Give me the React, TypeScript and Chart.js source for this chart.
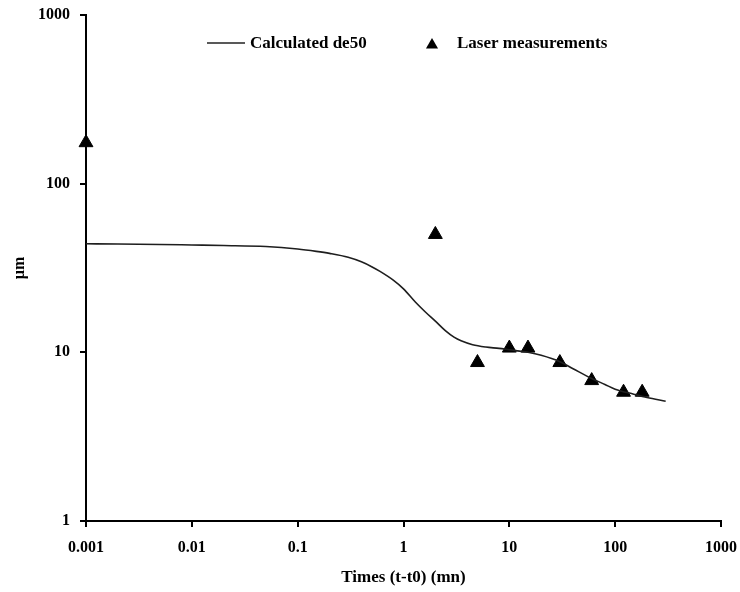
import React, { useEffect, useRef } from "react";
import { Chart, registerables } from "chart.js";

Chart.register(...registerables);

const seriesNames = ["Calculated de50", "Laser measurements"];

const calcTimes = [0.001, 0.002, 0.005, 0.01, 0.02, 0.05, 0.1, 0.15, 0.2, 0.3, 0.4, 0.5, 0.6, 0.8, 1, 1.3, 1.6, 2, 2.5, 3, 3.5, 4.5, 6, 8, 10, 15, 20, 30, 40, 60, 80, 100, 150, 200, 300];
const calcDe50 = [44.0, 43.9, 43.6, 43.3, 43.0, 42.4, 41.0, 39.7, 38.6, 36.6, 34.4, 32.2, 30.2, 26.8, 23.8, 19.8, 17.4, 15.3, 13.4, 12.3, 11.7, 11.1, 10.75, 10.55, 10.35, 10.0, 9.6, 8.8, 8.0, 7.0, 6.45, 6.05, 5.65, 5.4, 5.13];

const laserTimes = [0.001, 2, 5, 10, 15, 30, 60, 120, 180];
const laserValues = [175, 50, 8.7, 10.6, 10.6, 8.7, 6.8, 5.8, 5.8];

const xTickValues = [0.001, 0.01, 0.1, 1, 10, 100, 1000];
const xTickLabels = ["0.001", "0.01", "0.1", "1", "10", "100", "1000"];
const yTickValues = [1, 10, 100, 1000];
const yTickLabels = ["1", "10", "100", "1000"];

const xTitle = "Times (t-t0) (mn)";
const yTitle = "µm";

const FONT = "'Liberation Serif', 'Times New Roman', serif";

const legendPlugin = {
  id: "customLegend",
  afterDraw(chart: any) {
    const ctx = chart.ctx;
    const area = chart.chartArea;
    const y = area.top + 28;
    ctx.save();
    ctx.font = `bold 17px ${FONT}`;
    ctx.fillStyle = "#000";
    ctx.textBaseline = "middle";
    ctx.textAlign = "left";
    const lx = area.left + 121;
    ctx.strokeStyle = "#222";
    ctx.lineWidth = 1.5;
    ctx.beginPath();
    ctx.moveTo(lx, y);
    ctx.lineTo(lx + 38, y);
    ctx.stroke();
    ctx.fillText(seriesNames[0], lx + 43, y + 1);
    const tx = area.left + 346;
    const r = 7;
    const ty = y + 2;
    ctx.beginPath();
    for (let i = 0; i < 3; i++) {
      const a = (i * 2 * Math.PI) / 3;
      const px = tx + Math.sin(a) * r;
      const py = ty - Math.cos(a) * r;
      if (i === 0) ctx.moveTo(px, py);
      else ctx.lineTo(px, py);
    }
    ctx.closePath();
    ctx.fill();
    ctx.fillText(seriesNames[1], tx + 25, y + 1);
    ctx.restore();
  },
};

export default function App() {
  const canvasRef = useRef<HTMLCanvasElement | null>(null);

  useEffect(() => {
    if (!canvasRef.current) return;
    const chart = new Chart(canvasRef.current, {
      type: "line",
      data: {
        datasets: [
          {
            label: seriesNames[0],
            data: calcTimes.map((t, i) => ({ x: t, y: calcDe50[i] })),
            borderColor: "#1e1e1e",
            borderWidth: 1.6,
            pointRadius: 0,
            fill: false,
            cubicInterpolationMode: "monotone",
          } as any,
          {
            type: "scatter",
            label: seriesNames[1],
            data: laserTimes.map((t, i) => ({ x: t, y: laserValues[i] })),
            pointStyle: "triangle",
            pointRadius: 8,
            backgroundColor: "#000",
            borderColor: "#000",
            borderWidth: 1,
            showLine: false,
            clip: false,
          } as any,
        ],
      },
      options: {
        responsive: false,
        animation: false,
        layout: { padding: { top: 15, right: 19, left: 0, bottom: 0 } },
        plugins: {
          legend: { display: false },
          tooltip: { enabled: false },
        },
        scales: {
          x: {
            type: "logarithmic",
            min: 0.001,
            max: 1000,
            afterBuildTicks: (scale: any) => {
              scale.ticks = xTickValues.map((v) => ({ value: v, major: true }));
            },
            afterFit: (scale: any) => {
              scale.height = 71;
              scale.paddingLeft = 0;
              scale.paddingRight = 0;
            },
            ticks: {
              autoSkip: false,
              maxRotation: 0,
              padding: 11,
              color: "#000",
              font: { family: FONT, size: 16, weight: "bold" },
              callback: (_v: any, i: number) => xTickLabels[i],
            },
            grid: {
              display: true,
              drawOnChartArea: false,
              drawTicks: true,
              tickLength: 6,
              color: "#000",
              lineWidth: 2,
            },
            border: { display: true, color: "#000", width: 2 },
            title: {
              display: true,
              text: xTitle,
              color: "#000",
              font: { family: FONT, size: 17, weight: "bold" },
              padding: { top: 0, bottom: 4 },
            },
          },
          y: {
            type: "logarithmic",
            min: 1,
            max: 1000,
            afterBuildTicks: (scale: any) => {
              scale.ticks = yTickValues.map((v) => ({ value: v, major: true }));
            },
            afterFit: (scale: any) => {
              scale.width = 86;
              scale.paddingTop = 0;
              scale.paddingBottom = 0;
            },
            ticks: {
              autoSkip: false,
              padding: 10,
              color: "#000",
              font: { family: FONT, size: 16, weight: "bold" },
              callback: (_v: any, i: number) => yTickLabels[i],
            },
            grid: {
              display: true,
              drawOnChartArea: false,
              drawTicks: true,
              tickLength: 6,
              color: "#000",
              lineWidth: 2,
            },
            border: { display: true, color: "#000", width: 2 },
            title: {
              display: true,
              text: yTitle,
              color: "#000",
              font: { family: FONT, size: 16, weight: "bold" },
              padding: { top: 10, bottom: 0 },
            },
          },
        },
      },
      plugins: [legendPlugin],
    });
    return () => chart.destroy();
  }, []);

  return (
    <div style={{ position: "fixed", left: 0, top: 0, width: 740, height: 592, background: "#fff" }}>
      <canvas ref={canvasRef} width={740} height={592} style={{ display: "block" }} />
    </div>
  );
}
